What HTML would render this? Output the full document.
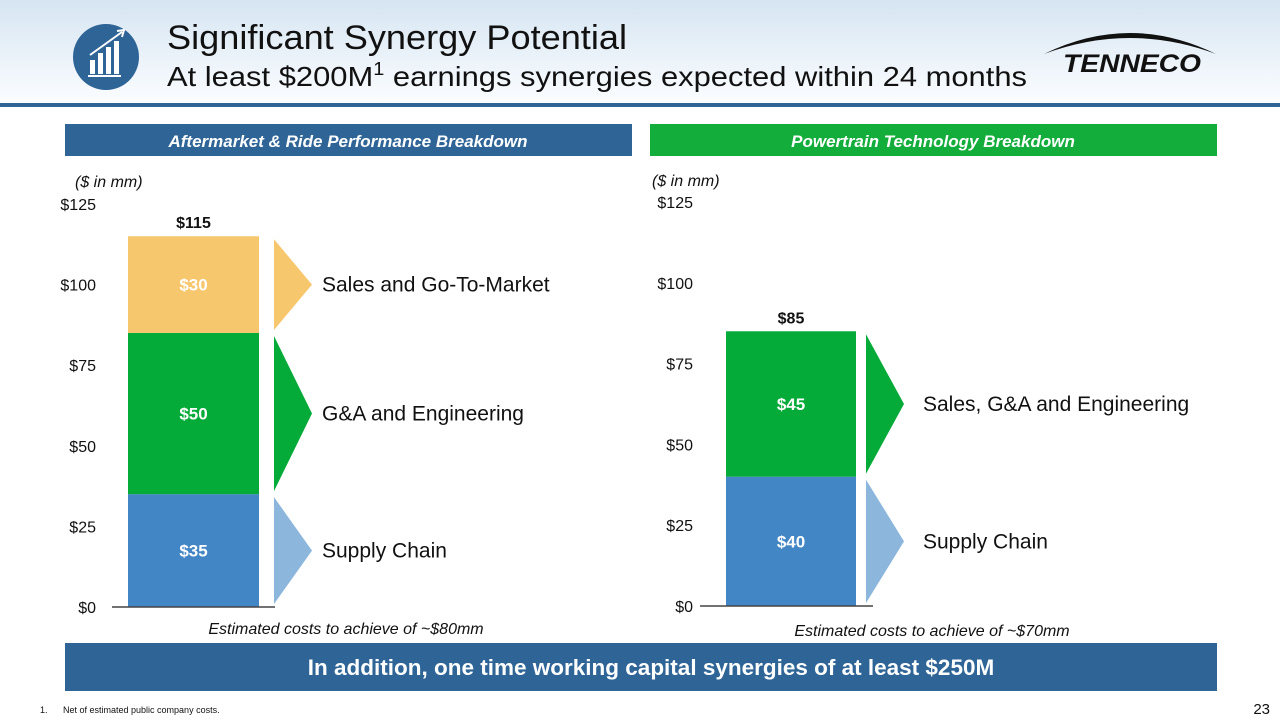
<!DOCTYPE html>
<html><head><meta charset="utf-8"><style>
html,body{margin:0;padding:0;background:#fff;}
svg{display:block;font-family:"Liberation Sans",sans-serif;}
</style></head><body>
<svg id="s" width="1280" height="720" viewBox="0 0 1280 720" xmlns="http://www.w3.org/2000/svg">
<defs>
<linearGradient id="hg" x1="0" y1="0" x2="0" y2="1"><stop offset="0" stop-color="#d6e5f2"/><stop offset="1" stop-color="#fbfdff"/></linearGradient>
</defs>
<rect x="0" y="0" width="1280" height="103" fill="url(#hg)"/>
<rect x="0" y="103" width="1280" height="4" fill="#2e6496"/>
<g>
<circle cx="106" cy="57" r="33" fill="#2e6496"/>
<rect x="90" y="60" width="5" height="14" fill="#fff"/><rect x="98" y="53" width="5" height="21" fill="#fff"/><rect x="106" y="47" width="5" height="27" fill="#fff"/><rect x="114" y="41" width="5" height="33" fill="#fff"/>
<rect x="88" y="75" width="33" height="2" fill="#fff"/>
<path d="M90 55 L122 32" stroke="#fff" stroke-width="2"/><path d="M117 31 L124 30 L122 37" stroke="#fff" stroke-width="2" fill="none"/>
</g>
<text x="167" y="49" font-size="34" fill="#111" textLength="460" lengthAdjust="spacingAndGlyphs">Significant Synergy Potential</text>
<text x="167" y="86" font-size="28" fill="#111" textLength="860" lengthAdjust="spacingAndGlyphs">At least $200M<tspan font-size="18" dy="-11">1</tspan><tspan dy="11"> earnings synergies expected within 24 months</tspan></text>
<g>
<path d="M1044 54 Q1130 12 1216 54 Q1130 22 1044 54 Z" fill="#111"/>
<text x="1063" y="72" font-size="25" font-weight="bold" font-style="italic" fill="#111" textLength="138" lengthAdjust="spacingAndGlyphs">TENNECO</text>
</g>
<rect x="65" y="124" width="567" height="32" fill="#2e6496"/>
<text x="348" y="147" font-size="17" font-weight="bold" font-style="italic" fill="#fff" text-anchor="middle">Aftermarket &amp; Ride Performance Breakdown</text>
<rect x="650" y="124" width="567" height="32" fill="#12ad3b"/>
<text x="933" y="147" font-size="17" font-weight="bold" font-style="italic" fill="#fff" text-anchor="middle">Powertrain Technology Breakdown</text>
<text x="75" y="187" font-size="16" font-style="italic" fill="#111">($ in mm)</text>
<text x="652" y="186" font-size="16" font-style="italic" fill="#111">($ in mm)</text>
<g id="charts"></g>
<text x="346" y="634" font-size="16" font-style="italic" fill="#111" text-anchor="middle">Estimated costs to achieve of ~$80mm</text>
<text x="932" y="636" font-size="16" font-style="italic" fill="#111" text-anchor="middle">Estimated costs to achieve of ~$70mm</text>
<rect x="65" y="643" width="1152" height="48" fill="#2e6496"/>
<text x="651" y="675" font-size="22.5" font-weight="bold" fill="#fff" text-anchor="middle">In addition, one time working capital synergies of at least $250M</text>
<text x="40" y="713" font-size="9" fill="#111">1.<tspan x="63">Net of estimated public company costs.</tspan></text>
<text x="1270" y="714" font-size="15" fill="#111" text-anchor="end">23</text>
</svg>
<script>
const leftCategories = ["Supply Chain", "G&A and Engineering", "Sales and Go-To-Market"];
const leftValues = [35, 50, 30];
const leftColors = ["#4386c5", "#04ab38", "#f7c76e"];
const leftArrowColors = ["#8db6dd", "#04ab38", "#f7c76e"];
const rightCategories = ["Supply Chain", "Sales, G&A and Engineering"];
const rightValues = [40, 45];
const rightColors = ["#4386c5", "#04ab38"];
const rightArrowColors = ["#8db6dd", "#04ab38"];
const tickValues = [0, 25, 50, 75, 100, 125];
const tickLabels = ["$0", "$25", "$50", "$75", "$100", "$125"];

const NS = "http://www.w3.org/2000/svg";
const root = document.getElementById("charts");
function mk(tag, attrs, parent) {
  const e = document.createElementNS(NS, tag);
  for (const k in attrs) e.setAttribute(k, attrs[k]);
  (parent || root).appendChild(e);
  return e;
}
function drawChart(side, cfg, cats, vals, colors, acolors) {
  const y0 = cfg.y0, y125 = cfg.y125;
  const y = v => y0 - (v / 125) * (y0 - y125);
  const g = mk("g", {});
  
  
  tickValues.forEach((t, i) => {
    const tx = mk("text", {x: cfg.tickX, y: y(t) + 6, "font-size": 16, fill: "#111", "text-anchor": "end"}, g);
    tx.textContent = tickLabels[i];
    
    
  });
  let cum = 0;
  vals.forEach((v, i) => {
    const top = y(cum + v), bot = y(cum);
    const r = mk("rect", {x: cfg.barX, y: top, width: cfg.barW, height: bot - top, fill: colors[i]}, g);
    
    
    const lb = mk("text", {x: cfg.barX + cfg.barW / 2, y: (top + bot) / 2 + 6, "font-size": 17, "font-weight": "bold", fill: "#fff", "text-anchor": "middle"}, g);
    lb.textContent = "$" + v;
    
    
    const ax = cfg.arrowX, gap = 3;
    const a = mk("polygon", {points: ax + "," + (top + gap) + " " + (ax + 38) + "," + ((top + bot) / 2) + " " + ax + "," + (bot - gap), fill: acolors[i]}, g);
    
    
    const ct = mk("text", {x: ax + cfg.textOff, y: (top + bot) / 2 + 7, "font-size": 21, fill: "#111"}, g);
    ct.textContent = cats[i];
    
    
    cum += v;
  });
  const tot = mk("text", {x: cfg.barX + cfg.barW / 2, y: y(cum) - 8, "font-size": 16, "font-weight": "bold", fill: "#111", "text-anchor": "middle"}, g);
  tot.textContent = "$" + cum;
  
  
  const ln = mk("line", {x1: cfg.axX1, x2: cfg.axX2, y1: y0, y2: y0, stroke: "#444", "stroke-width": 1.5}, g);
  
  
}
drawChart("left", {y0: 607, y125: 204, tickX: 96, barX: 128, barW: 131, arrowX: 274, textOff: 48, axX1: 112, axX2: 275}, leftCategories, leftValues, leftColors, leftArrowColors);
drawChart("right", {y0: 606, y125: 202, tickX: 693, barX: 726, barW: 130, arrowX: 866, textOff: 57, axX1: 700, axX2: 873}, rightCategories, rightValues, rightColors, rightArrowColors);
</script>
</body></html>
